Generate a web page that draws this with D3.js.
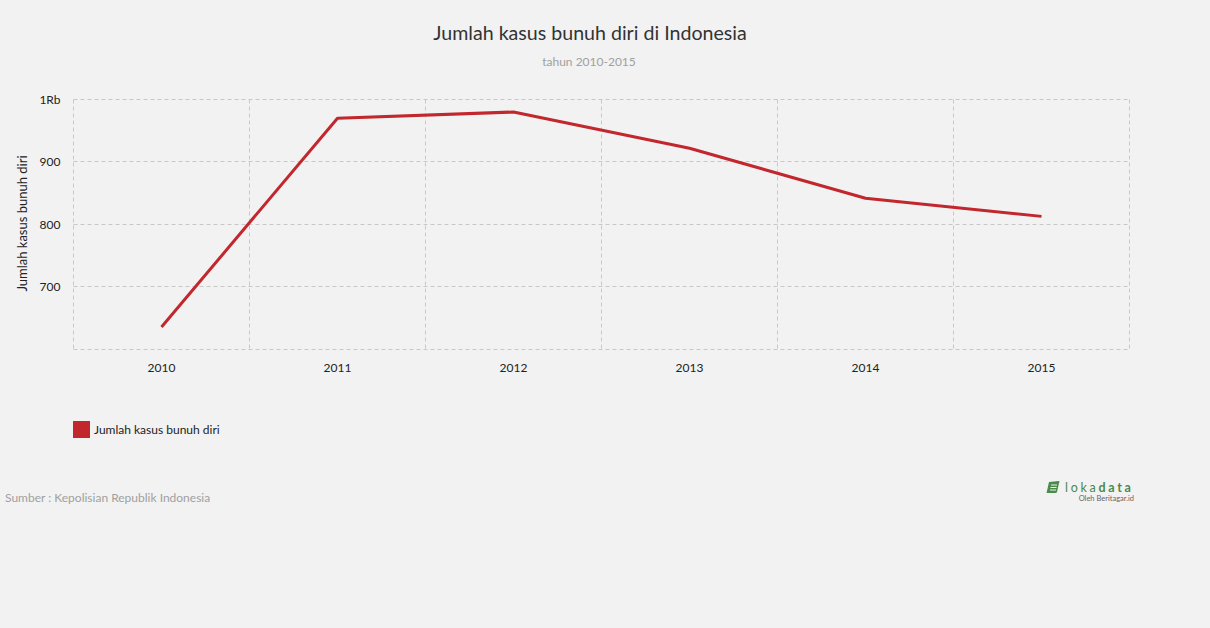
<!DOCTYPE html>
<html>
<head>
<meta charset="utf-8">
<script src="https://cdn.jsdelivr.net/npm/d3@7"></script>
<style>
  html, body { margin: 0; padding: 0; background: #f2f2f2; }
  svg { display: block; font-family: Lato, "Open Sans", sans-serif; }
</style>
</head>
<body>
<svg id="chart" width="1210" height="628"></svg>
<script>
const years = ["2010", "2011", "2012", "2013", "2014", "2015"];
const cases = [636, 970, 980, 922, 842, 813];
const yTicks = [700, 800, 900, 1000];
const yTickLabels = ["700", "800", "900", "1Rb"];
const seriesName = "Jumlah kasus bunuh diri";
const titleText = "Jumlah kasus bunuh diri di Indonesia";
const subtitleText = "tahun 2010-2015";
const sourceText = "Sumber : Kepolisian Republik Indonesia";

(function () {
const svg = d3.select("#chart");
const W = 1210, H = 628;
svg.append("rect").attr("width", W).attr("height", H).attr("fill", "#f2f2f2");

const pLeft = 73.5, pRight = 1129.5, pTop = 99.5, pBottom = 349.5;
const lineColor = "#c1272d";

const x = d3.scaleBand().domain(years).range([pLeft, pRight]).padding(0);
const y = d3.scaleLinear().domain([600, 1000]).range([pBottom, pTop]);

// Title
svg.append("text").attr("x", 590).attr("y", 40).attr("text-anchor", "middle")
  .attr("font-size", 19.6).attr("fill", "#333").text(titleText);
svg.append("text").attr("x", 589).attr("y", 66).attr("text-anchor", "middle")
  .attr("font-size", 12).attr("fill", "#a0a0a0").text(subtitleText);

// Horizontal grid
svg.append("g").selectAll("line").data([600].concat(yTicks)).join("line")
  .attr("x1", pLeft).attr("x2", pRight)
  .attr("y1", d => Math.round(y(d)) - 0.5).attr("y2", d => Math.round(y(d)) - 0.5)
  .attr("stroke", "#c8c8c8").attr("stroke-dasharray", "4,3").attr("stroke-width", 1);

// Vertical grid at band boundaries
const bounds = years.map(d => x(d)).concat([pRight]);
svg.append("g").selectAll("line").data(bounds).join("line")
  .attr("x1", d => Math.round(d) - 0.5).attr("x2", d => Math.round(d) - 0.5)
  .attr("y1", pTop).attr("y2", pBottom)
  .attr("stroke", "#c8c8c8").attr("stroke-dasharray", "4,3").attr("stroke-width", 1);

// Y axis labels
const yAxis = d3.axisLeft(y).tickValues(yTicks)
  .tickFormat((d, i) => yTickLabels[i]).tickSize(0).tickPadding(0);
const gy = svg.append("g").attr("transform", `translate(${pLeft - 13},0)`).call(yAxis);
gy.select(".domain").remove();
gy.selectAll("text").attr("font-size", 12).attr("fill", "#222").attr("font-family", "Lato, sans-serif");

// X axis labels
const xAxis = d3.axisBottom(x).tickSize(0).tickPadding(0);
const gx = svg.append("g").attr("transform", `translate(0,${pBottom + 14})`).call(xAxis);
gx.select(".domain").remove();
gx.selectAll("text").attr("font-size", 12).attr("fill", "#222").attr("font-family", "Lato, sans-serif");

// Y axis title
svg.append("text").attr("transform", `translate(27,${(pTop + pBottom) / 2 - 1}) rotate(-90)`)
  .attr("text-anchor", "middle").attr("font-size", 13).attr("fill", "#222").text(seriesName);

// Line
const line = d3.line().x((d, i) => x(years[i]) + x.bandwidth() / 2).y(d => y(d));
svg.append("path").datum(cases).attr("d", line)
  .attr("fill", "none").attr("stroke", lineColor).attr("stroke-width", 3)
  .attr("stroke-linejoin", "round");

// Legend
svg.append("rect").attr("x", 73).attr("y", 421).attr("width", 17).attr("height", 17).attr("fill", lineColor);
svg.append("text").attr("x", 94).attr("y", 434).attr("font-size", 12).attr("fill", "#222").text(seriesName);

// Source
svg.append("text").attr("x", 5).attr("y", 502).attr("font-size", 12).attr("fill", "#a0a0a0").text(sourceText);

// Logo
const logo = svg.append("g").attr("transform", "translate(1047,481)");
logo.append("path").attr("d", "M2,1 L12,0 Q13,0 12,2 L10,11 Q10,12 8,12 L0,12 Q-1,12 0,10 Z").attr("fill", "#4a8a4a");
logo.append("path").attr("d", "M4,4 L10,4 M3.5,6.5 L9.5,6.5 M3,9 L9,9").attr("stroke", "#f2f2f2").attr("stroke-width", 1);
const lt = logo.append("text").attr("x", 18).attr("y", 11).attr("font-size", 12.5).attr("fill", "#4a8a4a")
  .attr("letter-spacing", 2.7);
lt.append("tspan").text("loka");
lt.append("tspan").attr("font-weight", "bold").text("data");
logo.append("text").attr("x", 87).attr("y", 20).attr("text-anchor", "end").attr("font-size", 7.5).attr("fill", "#666")
  .text("Oleh Beritagar.id");
})();
</script>
</body>
</html>
